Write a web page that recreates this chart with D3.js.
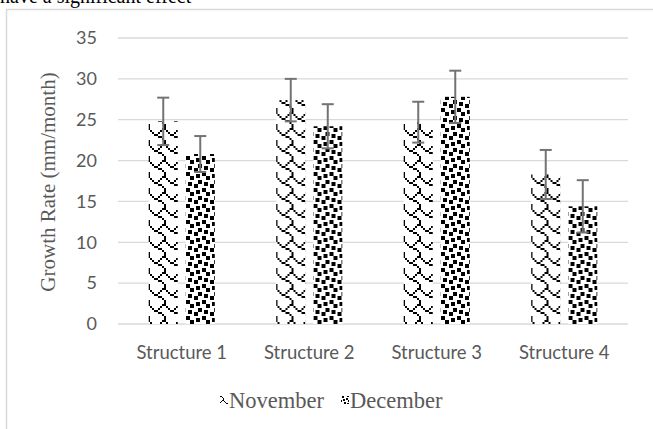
<!DOCTYPE html>
<html><head><meta charset="utf-8">
<script src="https://cdn.jsdelivr.net/npm/d3@7"></script>
<style>html,body{margin:0;padding:0;background:#fff;}svg{display:block;}</style>
</head><body>
<svg id="chart" width="653" height="429"></svg>
<script>
const categories = ["Structure 1","Structure 2","Structure 3","Structure 4"];
const series = ["November","December"];
const november = [24.8, 27.4, 24.7, 18.3];
const december = [20.8, 24.2, 27.8, 14.4];
const novErr = [2.9, 2.6, 2.5, 3.0];
const decErr = [2.2, 2.7, 3.2, 3.2];
const yTicks = [0,5,10,15,20,25,30,35];

const svg = d3.select("#chart");
const defs = svg.append("defs");

function bitPattern(id, rows, px) {
  const p = defs.append("pattern").attr("id",id).attr("patternUnits","userSpaceOnUse")
    .attr("width",8*px).attr("height",8*px);
  p.append("rect").attr("width",8*px).attr("height",8*px).attr("fill","#fff");
  rows.forEach((r,yy)=>{
    for (let xx=0; xx<8; xx++) {
      if (r & (0x80>>xx)) p.append("rect").attr("x",xx*px).attr("y",yy*px)
        .attr("width",px).attr("height",px).attr("fill","#000");
    }
  });
}
bitPattern("wave", [0x03,0x84,0x48,0x30,0x0c,0x02,0x01,0x01], 2);
bitPattern("confetti", [0x8d,0x0c,0xc0,0xd8,0x1b,0x03,0x30,0xb1], 2);
bitPattern("waveS", [0x03,0x84,0x48,0x30,0x0c,0x02,0x01,0x01], 1);
bitPattern("confettiS", [0x8d,0x0c,0xc0,0xd8,0x1b,0x03,0x30,0xb1], 1);

// clipped text at top (continuation of the page above the chart)
svg.append("text").attr("x",0).attr("y",3).attr("font-family","Liberation Serif, serif")
  .attr("font-size",20).attr("fill","#000").text("have a significant effect");

// frame
svg.append("rect").attr("x",6.5).attr("y",9.5).attr("width",700).attr("height",500)
  .attr("fill","#fff").attr("stroke","#d9d9d9").attr("stroke-width",1.5);

const y = d3.scaleLinear().domain([0,35]).range([324,38]);
const x0 = d3.scaleBand().domain(categories).range([118,628]).paddingInner(0).paddingOuter(0);
const x1 = d3.scaleBand().domain(series).range([0,x0.bandwidth()]).paddingInner(0.216).paddingOuter(0.83);

// gridlines
svg.append("g").selectAll("line").data(yTicks).join("line")
  .attr("x1",118).attr("x2",628).attr("y1",d=>y(d)).attr("y2",d=>y(d))
  .attr("stroke","#d9d9d9").attr("stroke-width",1.3);

// y axis labels
const yAxis = d3.axisLeft(y).tickValues(yTicks).tickSize(0).tickPadding(0);
const gy = svg.append("g").attr("transform","translate(97,0)").call(yAxis);
gy.select(".domain").remove();
gy.selectAll("text").attr("font-family","Lato, sans-serif").attr("font-size",18).attr("fill","#595959");

// x axis labels
const xAxis = d3.axisBottom(x0).tickSize(0).tickPadding(0);
const gx = svg.append("g").attr("transform","translate(0,346)").call(xAxis);
gx.select(".domain").remove();
gx.selectAll("text").attr("font-family","Lato, sans-serif").attr("font-size",18.5).attr("fill","#595959");

// bars
const data = categories.map((c,i)=>({c, vals:[
  {s:"November", v:november[i], e:novErr[i], fill:"url(#wave)"},
  {s:"December", v:december[i], e:decErr[i], fill:"url(#confetti)"}]}));

const groups = svg.append("g").selectAll("g").data(data).join("g")
  .attr("transform",d=>`translate(${x0(d.c)},0)`);
groups.selectAll("rect").data(d=>d.vals).join("rect")
  .attr("x",d=>x1(d.s)).attr("width",x1.bandwidth())
  .attr("y",d=>y(d.v)).attr("height",d=>y(0)-y(d.v))
  .attr("fill",d=>d.fill);

// error bars
const eb = groups.selectAll("g.err").data(d=>d.vals).join("g").attr("class","err");
const cx = d=>x1(d.s)+x1.bandwidth()/2;
eb.append("line").attr("x1",cx).attr("x2",cx)
  .attr("y1",d=>y(d.v+d.e)).attr("y2",d=>y(d.v-d.e)).attr("stroke","#737373").attr("stroke-width",2);
eb.append("line").attr("x1",d=>cx(d)-6).attr("x2",d=>cx(d)+6)
  .attr("y1",d=>y(d.v+d.e)).attr("y2",d=>y(d.v+d.e)).attr("stroke","#737373").attr("stroke-width",2);
eb.append("line").attr("x1",d=>cx(d)-6).attr("x2",d=>cx(d)+6)
  .attr("y1",d=>y(d.v-d.e)).attr("y2",d=>y(d.v-d.e)).attr("stroke","#737373").attr("stroke-width",2);

// y axis title
svg.append("text").attr("transform","translate(55,182) rotate(-90)").attr("text-anchor","middle")
  .attr("font-family","Liberation Serif, serif").attr("font-size",21).attr("fill","#595959")
  .text("Growth Rate (mm/month)");

// legend
const legend = svg.append("g");
const legX = [220, 341];
series.forEach((s,i)=>{
  legend.append("rect").attr("x",legX[i]).attr("y",396).attr("width",8).attr("height",8)
    .attr("fill", i===0 ? "url(#waveS)" : "url(#confettiS)");
  legend.append("text").attr("x",legX[i]+9).attr("y",408)
    .attr("font-family","Liberation Serif, serif").attr("font-size",22.5).attr("fill","#595959").text(s);
});
</script>
</body></html>
